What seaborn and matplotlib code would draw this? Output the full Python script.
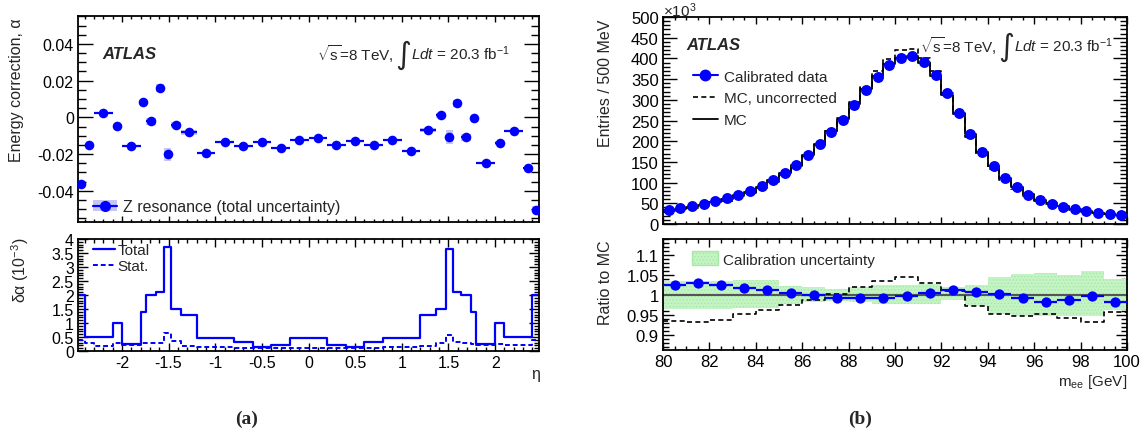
import numpy as np
import pandas as pd
import seaborn as sns
import matplotlib.pyplot as plt
from matplotlib.lines import Line2D
from matplotlib.patches import Patch
from matplotlib.ticker import MultipleLocator, FuncFormatter

sns.set_theme(style='ticks')
plt.rcParams['font.family'] = ['Liberation Sans', 'DejaVu Sans']
plt.rcParams['axes.unicode_minus'] = False
plt.rcParams['mathtext.fontset'] = 'custom'
plt.rcParams['mathtext.rm'] = 'Liberation Sans'
plt.rcParams['mathtext.it'] = 'Liberation Sans:italic'
plt.rcParams['mathtext.bf'] = 'Liberation Sans:bold'
plt.rcParams['hatch.linewidth'] = 0.6

# ---------------- (a) energy correction vs eta ----------------
eta_edges = [-2.47, -2.4, -2.3, -2.1, -2.0, -1.8, -1.74, -1.63, -1.55, -1.47, -1.37,
             -1.2, -1.0, -0.8, -0.6, -0.4, -0.2, 0.0, 0.2, 0.4, 0.6, 0.8, 1.0, 1.2,
             1.37, 1.47, 1.55, 1.63, 1.74, 1.8, 2.0, 2.1, 2.3, 2.4, 2.47]
alpha = [-0.0364, -0.0151, 0.0023, -0.0046, -0.0156, 0.0083, -0.0022, 0.0161, -0.0202,
         -0.0042, -0.0082, -0.0193, -0.0136, -0.0155, -0.0136, -0.0165, -0.0124,
         -0.0111, -0.0153, -0.0127, -0.0149, -0.0125, -0.0184, -0.0069, 0.0011,
         -0.0107, 0.0076, -0.0109, -0.0004, -0.0247, -0.0138, -0.0073, -0.0278, -0.0503]
# uncertainties in units of 1e-3
dalpha_total = [2.0, 0.5, 0.5, 1.0, 0.25, 1.38, 2.0, 2.1, 3.7, 1.5, 1.3, 0.47, 0.47,
                0.32, 0.15, 0.22, 0.47, 0.47, 0.22, 0.15, 0.32, 0.47, 0.47, 1.3, 1.5,
                3.65, 2.1, 2.0, 1.4, 0.25, 1.0, 0.5, 0.5, 2.0]
dalpha_stat = [0.40, 0.28, 0.18, 0.28, 0.20, 0.28, 0.28, 0.30, 0.65, 0.35, 0.17, 0.15,
               0.14, 0.12, 0.12, 0.12, 0.12, 0.12, 0.12, 0.12, 0.12, 0.14, 0.15, 0.17,
               0.30, 0.58, 0.33, 0.28, 0.26, 0.20, 0.24, 0.22, 0.22, 0.39]

# ---------------- (b) m_ee distribution ----------------
mee_edges = list(np.arange(80, 100.01, 0.5))
data_k = [33.9, 37.9, 42.7, 47.6, 54.8, 62.1, 71.0, 79.8, 91.1, 106.5, 123.4, 143.5,
          166.1, 192.7, 221.8, 252.4, 287.9, 322.6, 354.8, 383.1, 400.8, 404.8, 391.1,
          360.5, 316.1, 268.5, 217.7, 175.0, 139.5, 110.5, 88.7, 71.0, 58.1, 49.2,
          41.9, 35.5, 30.6, 27.4, 24.2, 21.8]
mc_k = [33.1, 37.0, 41.5, 46.3, 53.4, 60.5, 69.8, 78.4, 90.0, 105.2, 122.7, 142.6,
        166.1, 192.7, 223.5, 254.3, 290.2, 325.2, 357.3, 385.8, 401.8, 405.8, 388.8,
        358.3, 312.4, 265.3, 216.2, 173.8, 139.2, 110.3, 89.4, 71.5, 59.1, 50.1,
        42.5, 36.0, 30.7, 27.5, 24.6, 22.2]
mc_uncorr_k = [30.9, 34.6, 38.6, 43.1, 50.1, 56.7, 66.5, 74.7, 86.6, 101.2, 119.5, 138.9,
               163.9, 190.2, 224.2, 255.1, 295.7, 331.4, 369.4, 398.9, 419.5, 423.7,
               400.1, 368.7, 315.8, 268.2, 209.9, 168.8, 132.6, 105.1, 84.6, 67.6,
               56.3, 47.7, 40.1, 33.9, 28.6, 25.6, 23.5, 21.2]

ratio_edges = list(np.arange(80, 100.01, 1.0))
ratio_data = [1.025, 1.029, 1.026, 1.0175, 1.012, 1.006, 1.000, 0.9925, 0.992, 0.993,
              0.9975, 1.006, 1.012, 1.007, 1.002, 0.9925, 0.983, 0.987, 0.9975, 0.983]
ratio_uncorr = [0.934, 0.931, 0.938, 0.9525, 0.962, 0.974, 0.987, 1.003, 1.019, 1.034,
                1.044, 1.029, 1.011, 0.971, 0.9525, 0.946, 0.952, 0.943, 0.931, 0.957]
band_hi = [1.036, 1.036, 1.036, 1.0375, 1.0375, 1.023, 1.021, 1.015, 1.019, 1.025,
           1.026, 1.0275, 1.019, 1.026, 1.046, 1.0525, 1.055, 1.051, 1.059, 1.040]
band_lo = [0.965, 0.965, 0.965, 0.967, 0.967, 0.977, 0.982, 0.984, 0.982, 0.9775,
           0.9775, 0.976, 0.986, 0.973, 0.9525, 0.946, 0.946, 0.948, 0.948, 0.961]

BLUE = '#0000ff'
LAVENDER = '#c6c6f4'
GREEN = '#c4f3c4'
W, H = 1146, 439


def frac(x0, y0, x1, y1):
    # pixel box -> figure fraction rect
    return [x0 / W, 1 - y1 / H, (x1 - x0) / W, (y1 - y0) / H]


fmt = FuncFormatter(lambda v, p: '%g' % round(v, 6))


def root_ticks(ax, xmaj, xmin, ymaj, ymin, xlen, ylen, size):
    ax.xaxis.set_major_locator(MultipleLocator(xmaj))
    ax.xaxis.set_minor_locator(MultipleLocator(xmin))
    ax.yaxis.set_major_locator(MultipleLocator(ymaj))
    ax.yaxis.set_minor_locator(MultipleLocator(ymin))
    ax.xaxis.set_major_formatter(fmt)
    ax.yaxis.set_major_formatter(fmt)
    ax.tick_params(which='both', direction='in', top=True, right=True, colors='black',
                   labelsize=size, width=1.0)
    ax.tick_params(axis='x', which='major', length=xlen, pad=3)
    ax.tick_params(axis='x', which='minor', length=xlen / 2)
    ax.tick_params(axis='y', which='major', length=ylen, pad=3)
    ax.tick_params(axis='y', which='minor', length=ylen / 2)
    for s in ax.spines.values():
        s.set_linewidth(1.3)
        s.set_color('black')
    ax.set_xlabel('')
    ax.set_ylabel('')


def lumi_text(ax, x_right, y):
    # built right to left: luminosity, a tall integral sign, then sqrt(s)
    t3 = ax.text(x_right, y, r'$Ldt$ = 20.3 fb$^{\mathrm{-1}}$', transform=ax.transAxes,
                 fontsize=11, ha='right', va='center')
    t2 = ax.annotate('∫', xy=(0, 0.42), xycoords=t3, fontsize=22, ha='right', va='center',
                     family=['DejaVu Sans'])
    ax.annotate(r'$\sqrt{\mathrm{s}}$=8 TeV,', xy=(0, 0.5), xycoords=(t2, t3),
                xytext=(-1, 0), textcoords='offset points', fontsize=11, ha='right',
                va='center')


fig = plt.figure(figsize=(11.46, 4.39), dpi=100)

# ---- (a) top: alpha ----
ax = fig.add_axes(frac(78, 17, 539, 223))
lo, hi = np.array(eta_edges[:-1]), np.array(eta_edges[1:])
df_a = pd.DataFrame({'eta': (lo + hi) / 2, 'alpha': alpha, 'err': np.array(dalpha_total) * 1e-3})
ax.bar(df_a['eta'], 2 * df_a['err'], width=hi - lo, bottom=df_a['alpha'] - df_a['err'],
       color=LAVENDER, edgecolor='none', zorder=1)
ax.hlines(df_a['alpha'], lo, hi, color=BLUE, lw=1.6, zorder=2)
sns.scatterplot(data=df_a, x='eta', y='alpha', ax=ax, color=BLUE, s=48, linewidth=0, zorder=3)
ax.set_xlim(-2.47, 2.47)
ax.set_ylim(-0.057, 0.0552)
root_ticks(ax, 0.5, 0.1, 0.02, 0.005, 4.5, 11, 11.5)
ax.tick_params(labelbottom=False)
ax.text(0.052, 0.82, 'ATLAS', transform=ax.transAxes, fontsize=12, fontweight='bold',
        style='italic', va='center')
lumi_text(ax, 0.937, 0.82)
h_z = (Patch(facecolor=LAVENDER, edgecolor='none'),
       Line2D([], [], color=BLUE, marker='o', ms=7, lw=1.6))
ax.legend([h_z], ['Z resonance (total uncertainty)'], loc='center left',
          bbox_to_anchor=(0.033, 0.073), frameon=False, fontsize=11.5, borderpad=0,
          borderaxespad=0, handlelength=1.5, handletextpad=0.35)

# ---- (a) bottom: delta alpha ----
ax = fig.add_axes(frac(78, 240, 539, 352))
df_d = pd.DataFrame({'eta': (lo + hi) / 2, 'total': dalpha_total, 'stat': dalpha_stat})
sns.histplot(data=df_d, x='eta', weights='total', bins=eta_edges, element='step', fill=False,
             color=BLUE, linewidth=1.6, ax=ax)
sns.histplot(data=df_d, x='eta', weights='stat', bins=eta_edges, element='step', fill=False,
             color=BLUE, linewidth=1.4, linestyle=(0, (2.5, 1.5)), ax=ax)
ax.set_xlim(-2.47, 2.47)
ax.set_ylim(0, 4)
root_ticks(ax, 0.5, 0.1, 0.5, 0.1, 6, 7, 11.5)
ax.legend([Line2D([], [], color=BLUE, lw=1.6),
           Line2D([], [], color=BLUE, lw=1.4, ls=(0, (2.5, 1.5)))],
          ['Total', 'Stat.'], loc='upper left', bbox_to_anchor=(0.033, 0.96), frameon=False,
          fontsize=11, borderpad=0, borderaxespad=0, handlelength=1.4, handletextpad=0.2,
          labelspacing=0.1)

# ---- (b) top: m_ee ----
ax = fig.add_axes(frac(663, 18, 1127, 225))
me = np.array(mee_edges)
df_m = pd.DataFrame({'mee': (me[:-1] + me[1:]) / 2, 'data': data_k, 'mc': mc_k,
                     'mc_unc': mc_uncorr_k})
sns.histplot(data=df_m, x='mee', weights='mc_unc', bins=mee_edges, element='step', fill=False,
             color='black', linewidth=1.2, linestyle=(0, (3, 2)), ax=ax)
sns.histplot(data=df_m, x='mee', weights='mc', bins=mee_edges, element='step', fill=False,
             color='black', linewidth=1.3, ax=ax)
sns.scatterplot(data=df_m, x='mee', y='data', ax=ax, color=BLUE, s=62, linewidth=0, zorder=3)
ax.set_xlim(80, 100)
ax.set_ylim(0, 500)
root_ticks(ax, 2, 0.5, 50, 10, 5, 10, 12)
ax.tick_params(labelbottom=False)
ax.text(0.05, 0.865, 'ATLAS', transform=ax.transAxes, fontsize=12, fontweight='bold',
        style='italic', va='center')
lumi_text(ax, 0.970, 0.865)
ax.legend([Line2D([], [], color=BLUE, marker='o', ms=7.5, lw=1.5),
           Line2D([], [], color='black', lw=1.2, ls=(0, (3, 2))),
           Line2D([], [], color='black', lw=1.3)],
          ['Calibrated data', 'MC, uncorrected', 'MC'], loc='upper left',
          bbox_to_anchor=(0.065, 0.745), frameon=False, fontsize=11, borderpad=0,
          borderaxespad=0, handlelength=1.6, handletextpad=0.4, labelspacing=0.5)

# ---- (b) bottom: ratio ----
ax = fig.add_axes(frac(663, 240, 1127, 351))
re = np.array(ratio_edges)
df_r = pd.DataFrame({'mee': (re[:-1] + re[1:]) / 2, 'ratio': ratio_data, 'uncorr': ratio_uncorr})
ax.fill_between(re, band_lo + band_lo[-1:], band_hi + band_hi[-1:],
                step='post', facecolor=GREEN, edgecolor='#a6e8a6', hatch='.....', lw=0,
                zorder=1)
ax.axhline(1, color='#555555', lw=1.5, zorder=2)
sns.histplot(data=df_r, x='mee', weights='uncorr', bins=ratio_edges, element='step',
             fill=False, color='black', linewidth=1.2, linestyle=(0, (3, 2)), ax=ax)
ax.hlines(df_r['ratio'], re[:-1], re[1:], color=BLUE, lw=1.6, zorder=3)
sns.scatterplot(data=df_r, x='mee', y='ratio', ax=ax, color=BLUE, s=55, linewidth=0, zorder=4)
ax.set_xlim(80, 100)
ax.set_ylim(0.862, 1.14)
root_ticks(ax, 2, 0.5, 0.05, 0.01, 6, 8, 12)
ax.legend([Patch(facecolor=GREEN, edgecolor='#a6e8a6', hatch='.....')],
          ['Calibration uncertainty'], loc='center left', bbox_to_anchor=(0.062, 0.82),
          frameon=False, fontsize=11, borderpad=0, borderaxespad=0, handlelength=1.7,
          handleheight=1.0, handletextpad=0.35)


# ---- axis titles and captions ----
def px(x, y):
    return x / W, 1 - y / H


fig.text(*px(17, 18), 'Energy correction, α', rotation=90, ha='center', va='top', fontsize=11.5)
fig.text(*px(20, 238), 'δα (10$^{-3}$)', rotation=90, ha='center', va='top', fontsize=11.5)
fig.text(*px(605, 20), 'Entries / 500 MeV', rotation=90, ha='center', va='top', fontsize=11.5)
fig.text(*px(605, 240), 'Ratio to MC', rotation=90, ha='center', va='top', fontsize=11.5)
fig.text(*px(663, 11), r'$\times$10$^{3}$', ha='left', va='center', fontsize=11)
fig.text(*px(540, 374), 'η', ha='right', va='center', fontsize=11.5)
fig.text(*px(1127, 382), r'm$_{\mathrm{ee}}$ [GeV]', ha='right', va='center', fontsize=11)
fig.text(*px(247, 419), '(a)', ha='center', va='center', fontsize=14, fontweight='bold',
         family='Liberation Serif')
fig.text(*px(860, 419), '(b)', ha='center', va='center', fontsize=14, fontweight='bold',
         family='Liberation Serif')

fig.savefig('out.png', dpi=100, facecolor='white')
